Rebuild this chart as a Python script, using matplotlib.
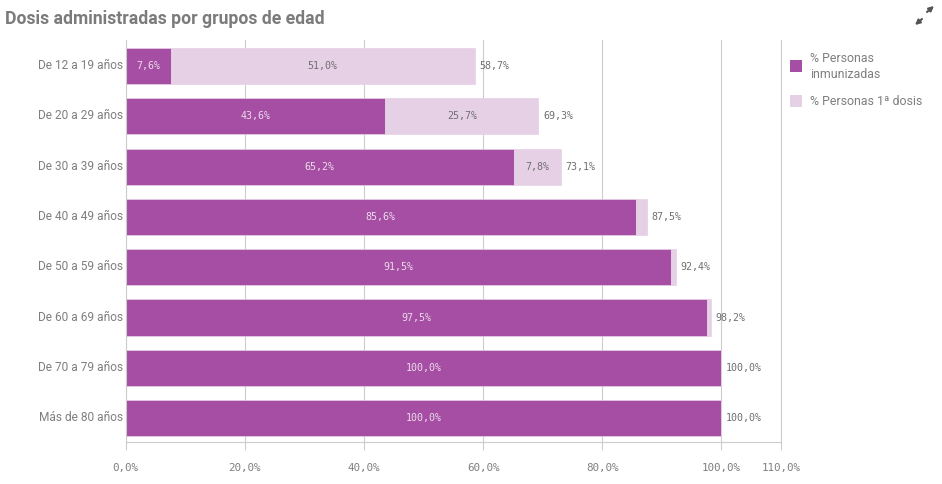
import matplotlib
matplotlib.use("Agg")
import matplotlib.pyplot as plt
from matplotlib.patches import Rectangle
from matplotlib.transforms import ScaledTranslation

groups = ["De 12 a 19 años", "De 20 a 29 años", "De 30 a 39 años", "De 40 a 49 años",
          "De 50 a 59 años", "De 60 a 69 años", "De 70 a 79 años", "Más de 80 años"]
immunized = [7.6, 43.6, 65.2, 85.6, 91.5, 97.5, 100.0, 100.0]
first_dose = [51.0, 25.7, 7.8, 1.9, 0.9, 0.7, 0.0, 0.0]
totals = [58.7, 69.3, 73.1, 87.5, 92.4, 98.2, 100.0, 100.0]
xticks = [0, 20, 40, 60, 80, 100, 110]
title = "Dosis administradas por grupos de edad"
legend_names = ["% Personas\ninmunizadas", "% Personas 1ª dosis"]

DARK = "#a54ea3"
LIGHT = "#e6d0e6"
GRID = "#cccccc"
TXT = "#7f7f7f"
MONO = "DejaVu Sans Mono"
SANS = "Roboto"
W, H = 942, 484

def fmt(v):
    return f"{v:.1f}%".replace(".", ",")

fig = plt.figure(figsize=(W / 100, H / 100), dpi=100, facecolor="white")
L, R, T, B = 125.5, 781, 40, 442
ax = fig.add_axes([L / W, 1 - B / H, (R - L) / W, (B - T) / H])
ax.set_xlim(0, 110)
ax.set_ylim(7.475, -0.517)
ax.set_axisbelow(True)
ax.grid(axis="x", color=GRID, lw=0.8)
ax.spines["top"].set_visible(False)
for s in ["left", "right", "bottom"]:
    ax.spines[s].set_color(GRID)
    ax.spines[s].set_linewidth(0.8)

ys = list(range(len(groups)))
ax.barh(ys, immunized, height=0.716, color=DARK, edgecolor=LIGHT, lw=0.5)
ax.barh(ys, first_dose, left=immunized, height=0.716, color=LIGHT, edgecolor=LIGHT, lw=0.5)

for y, a, b, t in zip(ys, immunized, first_dose, totals):
    ax.text(a / 2, y, fmt(a), ha="center", va="center", fontsize=7.2,
            family=MONO, color="#ecdcec")
    if b >= 5:
        ax.text(a + b / 2, y, fmt(b), ha="center", va="center", fontsize=7.2,
                family=MONO, color="#6f6f6f")
    ax.text(a + b + 0.75, y, fmt(t), ha="left", va="center", fontsize=7.2,
            family=MONO, color="#6f6f6f")

ax.set_yticks(ys, groups, family=SANS, fontsize=8.6, color=TXT)
ax.tick_params(axis="y", length=0, pad=2)
for lab in ax.get_yticklabels():
    lab.set_transform(lab.get_transform() + ScaledTranslation(0, 2 / 100, fig.dpi_scale_trans))
ax.set_xticks(xticks, [fmt(v) for v in xticks], family=MONO, fontsize=7.8, color=TXT)
ax.tick_params(axis="x", length=6, width=0.8, color=GRID, pad=9)

fig.text(5 / W, 1 - 19 / H, title, family=SANS, fontweight="bold", fontsize=12.7, color="#7b7b7b",
         ha="left", va="center")

# Legend
for (top, name, col, ty) in [(60, legend_names[0], DARK, 66.5), (95, legend_names[1], LIGHT, 101.5)]:
    fig.add_artist(Rectangle((790 / W, 1 - (top + 12) / H), 12 / W, 12 / H,
                             transform=fig.transFigure, fc=col, ec="none"))
    fig.text(810.5 / W, 1 - ty / H, name, family=SANS, fontsize=8.9, color=TXT, ha="left", va="center",
             linespacing=1.2)

# Expand icon
for start, end in [((927, 12), (934, 6)), ((922, 19), (915, 25))]:
    ax.annotate("", xy=(end[0] / W, 1 - end[1] / H), xytext=(start[0] / W, 1 - start[1] / H),
                xycoords="figure fraction", textcoords="figure fraction",
                arrowprops=dict(arrowstyle="-|>", color="#555555", lw=1.5, mutation_scale=7,
                                shrinkA=0, shrinkB=0))

fig.savefig("out.png", dpi=100)
